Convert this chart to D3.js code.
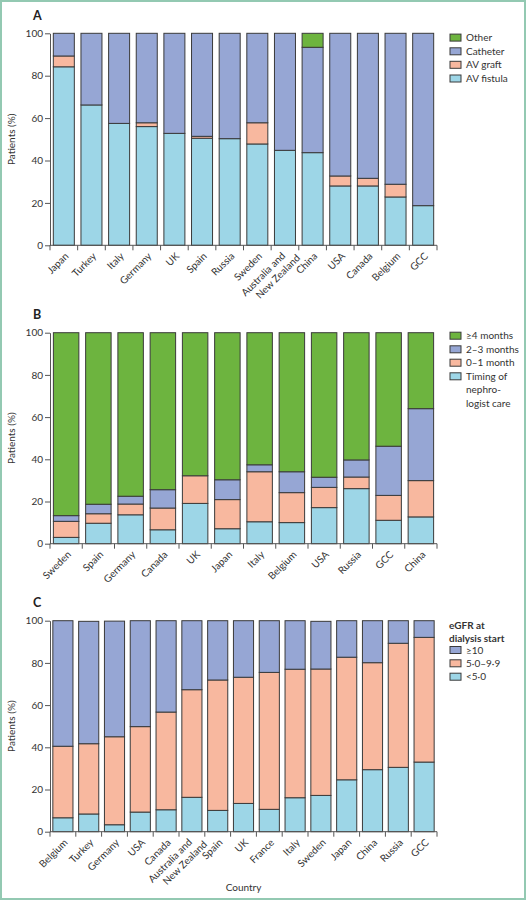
<!DOCTYPE html>
<html><head><meta charset="utf-8">
<script src="https://cdn.jsdelivr.net/npm/d3@7"></script>
<style>
html,body{margin:0;padding:0;background:#fff;}
text{font-family:Lato,"Open Sans",sans-serif;}
</style></head>
<body>
<svg id="chart" width="526" height="900"></svg>
<script>
// ---------- DATA ----------
// Panel A: vascular access
const catsA = ["Japan","Turkey","Italy","Germany","UK","Spain","Russia","Sweden","Australia and\nNew Zealand","China","USA","Canada","Belgium","GCC"];
const fistulaA  = [84.2,66.2,57.5,56.0,52.8,50.5,50.3,47.8,44.8,43.7,28.0,28.0,22.8,18.7];
const graftA    = [5.1,0,0,1.8,0,0.9,0,10.0,0,0,4.7,3.6,6.0,0];
const catheterA = [10.7,33.8,42.5,42.2,47.2,48.6,49.7,42.2,55.2,49.7,67.3,68.4,71.2,81.3];
const otherA    = [0,0,0,0,0,0,0,0,0,6.6,0,0,0,0];
const seriesA = ["AV fistula","AV graft","Catheter","Other"];

// Panel B: timing of nephrologist care
const catsB = ["Sweden","Spain","Germany","Canada","UK","Japan","Italy","Belgium","USA","Russia","GCC","China"];
const timingB = [3.0,9.7,13.7,6.6,19.1,7.1,10.4,10.0,17.1,26.1,11.1,12.7];
const m01B    = [7.6,4.5,5.1,10.3,13.1,13.8,23.7,14.2,9.6,5.5,11.8,17.2];
const m23B    = [2.7,4.5,3.7,8.7,0,9.4,3.3,9.9,4.8,8.1,23.3,34.1];
const m4B     = [86.7,81.3,77.5,74.4,67.8,69.7,62.6,65.9,68.5,60.3,53.8,36.0];
const seriesB = ["Timing of nephro-logist care","0–1 month","2–3 months","≥4 months"];

// Panel C: eGFR at dialysis start
const catsC = ["Belgium","Turkey","Germany","USA","Canada","Australia and\nNew Zealand","Spain","UK","France","Italy","Sweden","Japan","China","Russia","GCC"];
const lt5C  = [6.6,8.4,3.3,9.3,10.4,16.3,10.1,13.4,10.6,16.1,17.2,24.6,29.4,30.5,33.0];
const midC  = [33.9,33.3,41.7,40.5,46.3,51.0,61.8,59.8,64.9,60.9,59.9,58.1,50.7,58.8,59.1];
const ge10C = [59.5,58.0,54.8,50.2,43.3,32.7,28.1,26.8,24.5,23.0,22.6,17.3,19.9,10.7,7.9];
const seriesC = ["<5·0","5·0–9·9","≥10"];

const yTicks = [0,20,40,60,80,100];

// ---------- STYLE ----------
const C_CYAN = "#9dd6e7", C_SALMON = "#f8b89f", C_BLUE = "#96a6d4", C_GREEN = "#6db43f";
const svg = d3.select("#chart");
svg.append("rect").attr("x",1).attr("y",1).attr("width",524).attr("height",898)
  .attr("fill","#fff").attr("stroke","#93c9b2").attr("stroke-width",2);

function panel(cfg){
  const g = svg.append("g");
  const x = d3.scaleBand().domain(cfg.cats).range([50,437]).paddingInner(cfg.pad).paddingOuter(cfg.pad/2);
  const y = d3.scaleLinear().domain([0,100]).range([cfg.bottom,cfg.top]);
  const rows = cfg.cats.map((c,i)=>{const r={cat:c}; cfg.keys.forEach((k,j)=>r[k]=cfg.values[j][i]); return r;});
  const stack = d3.stack().keys(cfg.keys)(rows);
  stack.forEach((layer,li)=>{
    g.append("g").selectAll("rect").data(layer.filter(d=>d[1]-d[0]>0)).join("rect")
      .attr("x",d=>x(d.data.cat)).attr("width",x.bandwidth())
      .attr("y",d=>y(d[1])).attr("height",d=>y(d[0])-y(d[1]))
      .attr("fill",cfg.colors[li]).attr("stroke","#3a3a3a").attr("stroke-width",1);
  });
  // y axis
  const ya = g.append("g").attr("transform","translate(50,0)")
    .call(d3.axisLeft(y).tickValues(yTicks).tickSize(5).tickSizeOuter(0).tickPadding(2));
  ya.select(".domain").attr("stroke","#555");
  ya.selectAll(".tick line").attr("stroke","#555");
  ya.selectAll("text").attr("font-size",10).attr("fill","#333").attr("font-family","Lato");
  // x axis line with ticks at band boundaries
  const step = x.step();
  const bounds = d3.range(cfg.cats.length+1).map(i=>50+i*step);
  g.append("line").attr("x1",50).attr("x2",437).attr("y1",cfg.bottom).attr("y2",cfg.bottom).attr("stroke","#555");
  g.selectAll(".xt").data(bounds).join("line").attr("x1",d=>d).attr("x2",d=>d)
    .attr("y1",cfg.bottom).attr("y2",cfg.bottom+5).attr("stroke","#555");
  // x labels
  cfg.cats.forEach(c=>{
    const cx = x(c)+x.bandwidth()/2;
    const t = g.append("text").attr("transform",`translate(${cx+3},${cfg.bottom+9}) rotate(-45)`)
      .attr("text-anchor","end").attr("font-size",10).attr("fill","#333");
    const lines = c.split("\n");
    if(lines.length===1){
      t.append("tspan").attr("x",0).attr("dy","0.35em").text(lines[0]);
    } else {
      t.append("tspan").attr("x",-3).attr("dy","0em").text(lines[0]);
      t.append("tspan").attr("x",6).attr("dy","1.2em").text(lines[1]);
    }
  });
  // y label
  g.append("text").attr("transform",`translate(15,${(cfg.top+cfg.bottom)/2}) rotate(-90)`)
    .attr("text-anchor","middle").attr("font-size",10).attr("fill","#333").text("Patients (%)");
  // panel letter
  g.append("text").attr("x",33).attr("y",cfg.letterY).attr("font-size",12.5).attr("font-weight","bold")
    .attr("fill","#222").text(cfg.letter);
  // legend
  const lg = g.append("g");
  cfg.legend.forEach((it)=>{
    if(it.color){
      lg.append("rect").attr("x",450).attr("y",it.y-3.5).attr("width",11).attr("height",7)
        .attr("fill",it.color).attr("stroke","#3a3a3a").attr("stroke-width",1);
    }
    it.lines.forEach((ln,k)=>{
      lg.append("text").attr("x",it.color?466:449).attr("y",it.y+3.5+k*13.5)
        .attr("font-size",10).attr("fill","#333").attr("font-weight",it.bold?"bold":"normal").text(ln);
    });
  });
}

panel({letter:"A",letterY:20,top:33.3,bottom:245.3,pad:0.24,cats:catsA,keys:seriesA,
  values:[fistulaA,graftA,catheterA,otherA],colors:[C_CYAN,C_SALMON,C_BLUE,C_GREEN],
  legend:[{y:37.6,color:C_GREEN,lines:[seriesA[3]]},{y:51.3,color:C_BLUE,lines:[seriesA[2]]},
          {y:64.8,color:C_SALMON,lines:[seriesA[1]]},{y:78.5,color:C_CYAN,lines:[seriesA[0]]}]});

panel({letter:"B",letterY:319,top:332.7,bottom:543.7,pad:0.21,cats:catsB,keys:seriesB,
  values:[timingB,m01B,m23B,m4B],colors:[C_CYAN,C_SALMON,C_BLUE,C_GREEN],
  legend:[{y:335.7,color:C_GREEN,lines:[seriesB[3]]},{y:349.3,color:C_BLUE,lines:[seriesB[2]]},
          {y:362.7,color:C_SALMON,lines:[seriesB[1]]},{y:376.3,color:C_CYAN,lines:["Timing of","nephro-","logist care"]}]});

panel({letter:"C",letterY:607,top:620.7,bottom:831.7,pad:0.22,cats:catsC,keys:seriesC,
  values:[lt5C,midC,ge10C],colors:[C_CYAN,C_SALMON,C_BLUE],
  legend:[{y:625,bold:true,lines:["eGFR at","dialysis start"]},
          {y:650,color:C_BLUE,lines:[seriesC[2]]},{y:663.3,color:C_SALMON,lines:[seriesC[1]]},
          {y:676.7,color:C_CYAN,lines:[seriesC[0]]}]});

svg.append("text").attr("x",243.5).attr("y",891).attr("text-anchor","middle")
  .attr("font-size",10).attr("fill","#333").text("Country");
</script>
</body></html>
